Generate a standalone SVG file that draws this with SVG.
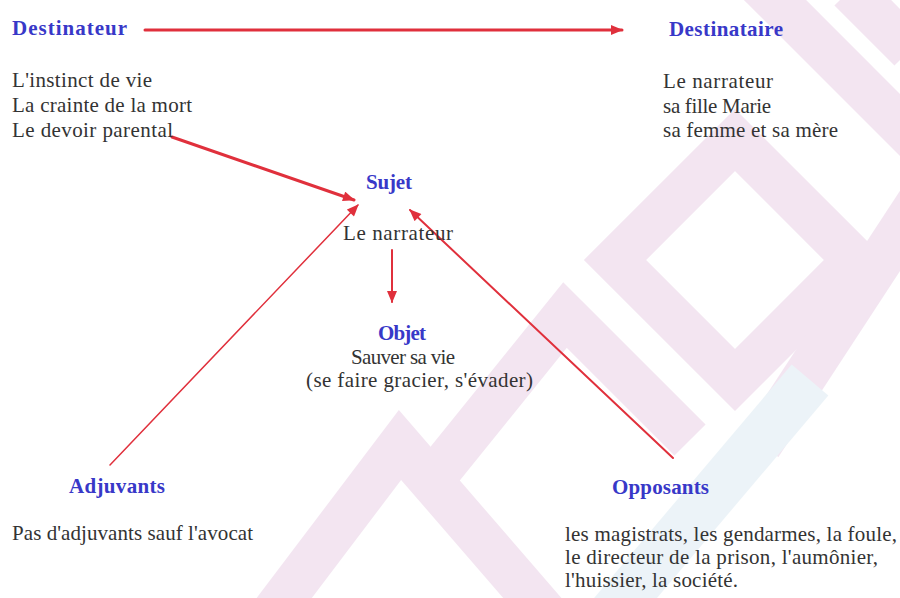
<svg xmlns="http://www.w3.org/2000/svg" width="900" height="598" viewBox="0 0 900 598">
<defs>
<style>
.h{font-family:"Liberation Serif","Times New Roman",serif;font-weight:bold;font-size:21px;fill:#3838c8}
.t{font-family:"Liberation Serif","Times New Roman",serif;font-size:21px;fill:#333}
.a{stroke:#e0303c;fill:none;stroke-linecap:round}
.w{fill:none;stroke:#e3c3df;stroke-width:44;stroke-linejoin:miter}
</style>
<marker id="ah" viewBox="0 0 12 10" refX="11" refY="5" markerWidth="13" markerHeight="10" markerUnits="userSpaceOnUse" orient="auto">
<path d="M0,0 L12,5 L0,10 Z" fill="#e0303c"/>
</marker>
</defs>
<rect width="900" height="598" fill="#fff"/>
<g id="watermark" opacity="0.42">
<polyline class="w" points="260,630 400,445 560,630"/>
<polyline class="w" points="440,470 565,315 690,440"/>
<polygon class="w" points="735,140 855,260 735,380 615,260"/>
<polyline class="w" points="745,-30 930,155"/>
<polyline class="w" points="850,-10 910,50"/>
<polyline class="w" points="930,185 760,445"/>
<polyline fill="none" stroke="#d3e4ef" stroke-width="48" points="590,640 810,380"/>
</g>
<g id="connectors">
<line class="a" x1="145" y1="30" x2="622" y2="30" stroke-width="3" marker-end="url(#ah)"/>
<line class="a" x1="172" y1="137" x2="354" y2="200" stroke-width="3" marker-end="url(#ah)"/>
<line class="a" x1="110" y1="465" x2="358" y2="205" stroke-width="1.5" marker-end="url(#ah)"/>
<line class="a" x1="673" y1="458" x2="410" y2="210" stroke-width="2" marker-end="url(#ah)"/>
<line class="a" x1="392" y1="250" x2="392" y2="302" stroke-width="2" marker-end="url(#ah)"/>
</g>
<g id="destinateur">
<text class="h" x="12" y="35" textLength="115">Destinateur</text>
<text class="t" x="12" y="87" textLength="140">L'instinct de vie</text>
<text class="t" x="12" y="112" textLength="180">La crainte de la mort</text>
<text class="t" x="12" y="137" textLength="161">Le devoir parental</text>
</g>
<g id="destinataire">
<text class="h" x="669" y="36" textLength="114">Destinataire</text>
<text class="t" x="663" y="88" textLength="110">Le narrateur</text>
<text class="t" x="663" y="113" textLength="108">sa fille Marie</text>
<text class="t" x="663" y="137" textLength="175">sa femme et sa mère</text>
</g>
<g id="sujet">
<text class="h" x="366" y="189" textLength="46">Sujet</text>
<text class="t" x="343" y="240" textLength="110">Le narrateur</text>
</g>
<g id="objet">
<text class="h" x="378" y="340" textLength="48">Objet</text>
<text class="t" x="351" y="364" textLength="104">Sauver sa vie</text>
<text class="t" x="306" y="387" textLength="227">(se faire gracier, s'évader)</text>
</g>
<g id="adjuvants">
<text class="h" x="69" y="493" textLength="96">Adjuvants</text>
<text class="t" x="12" y="540" textLength="241">Pas d'adjuvants sauf l'avocat</text>
</g>
<g id="opposants">
<text class="h" x="612" y="494" textLength="97">Opposants</text>
<text class="t" x="565" y="541" textLength="332">les magistrats, les gendarmes, la foule,</text>
<text class="t" x="565" y="564" textLength="313">le directeur de la prison, l'aumônier,</text>
<text class="t" x="565" y="587" textLength="173">l'huissier, la société.</text>
</g>
</svg>
